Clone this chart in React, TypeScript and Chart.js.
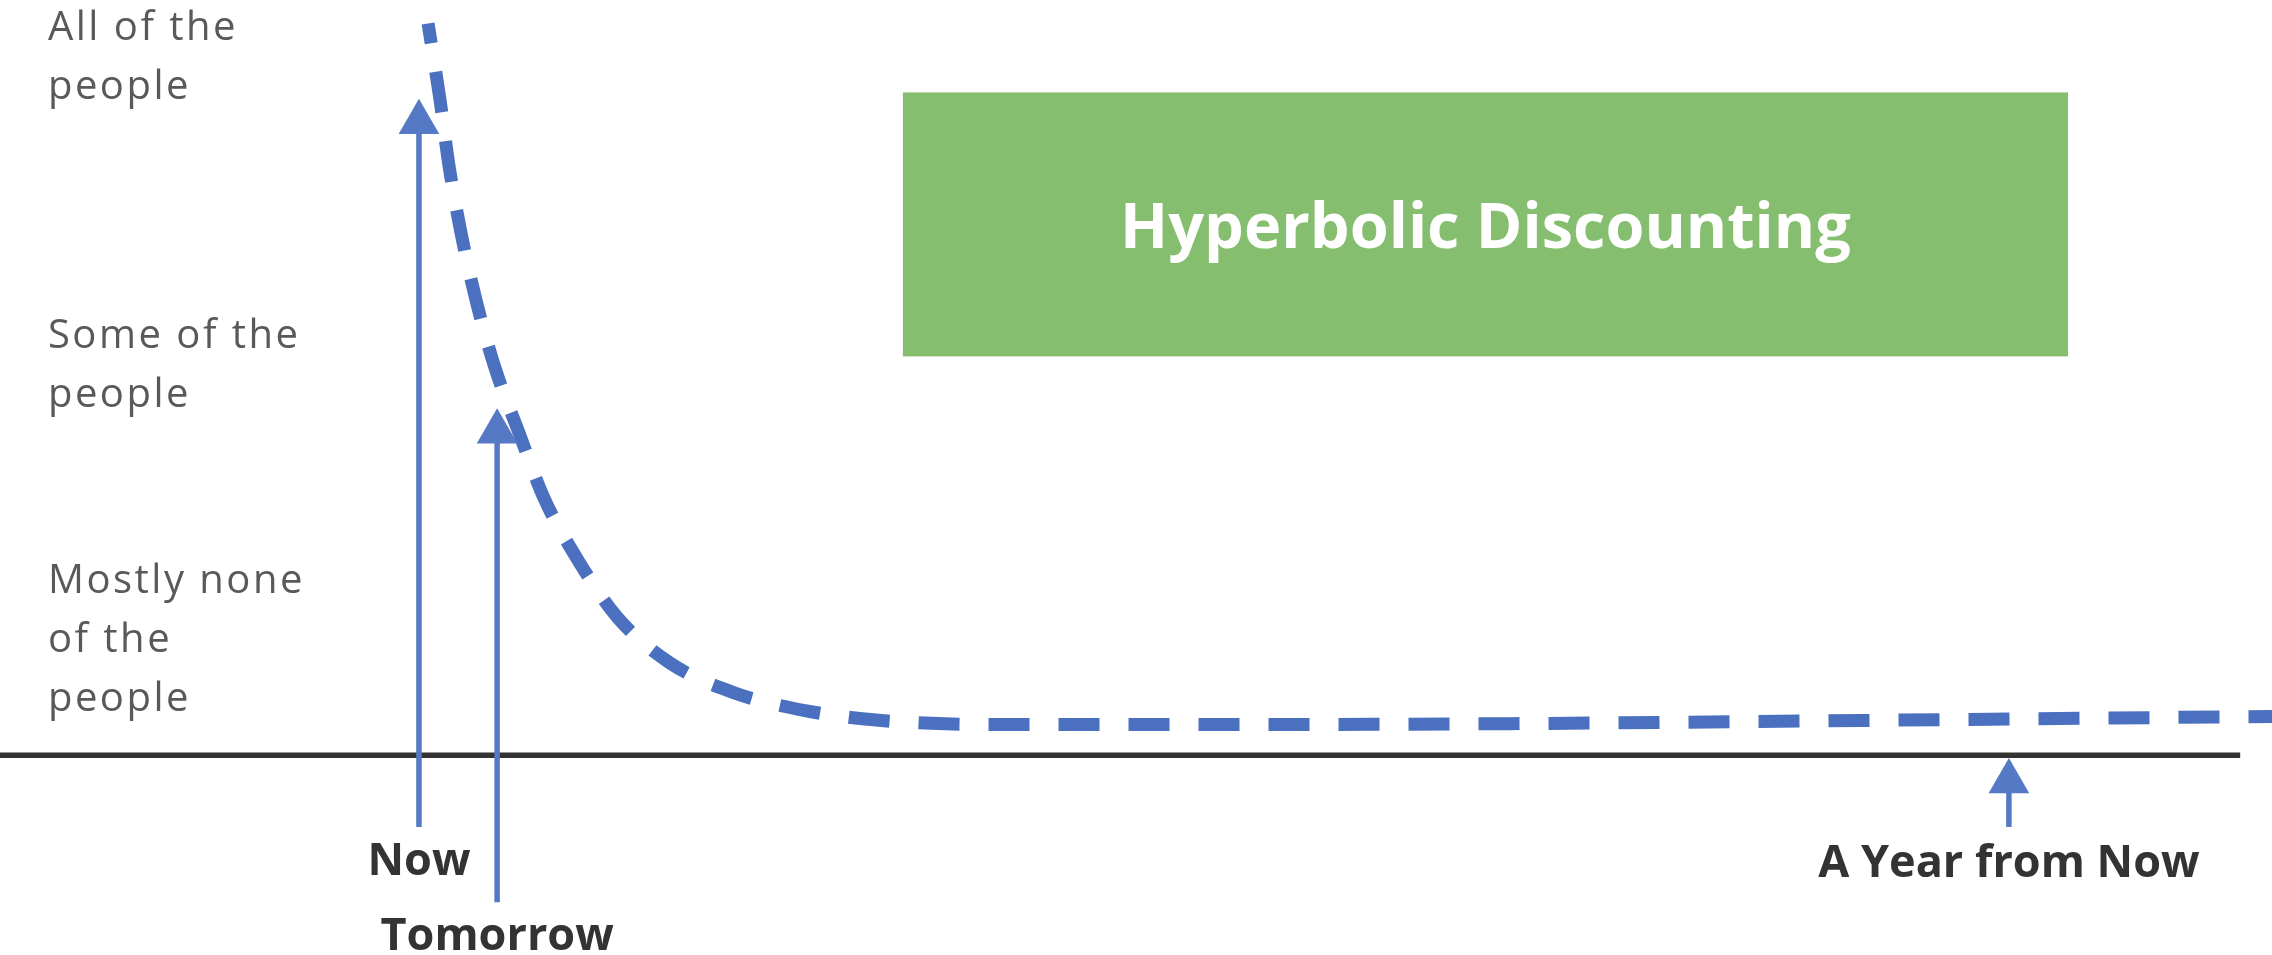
import { useEffect, useRef } from "react";
import { Chart, registerables } from "chart.js";

Chart.register(...registerables);

// Conceptual time axis (0..100 across the figure) and share of people (0..100)
const curveX = [18.84, 19.37, 19.76, 20.29, 20.95, 21.79, 22.85, 23.95, 25.45, 27.16, 29.49, 32.35, 35.43, 38.56, 44.0, 57.2, 70.4, 83.6, 100];
const curveY = [100.0, 89.5, 80.6, 71.4, 62.2, 52.9, 44.0, 35.1, 26.6, 18.9, 12.6, 8.5, 6.1, 4.8, 4.2, 4.2, 4.4, 4.8, 5.3];

const axisX = [0, 98.6];

const arrowLabels = ["Now", "Tomorrow", "A Year from Now"];
const arrowX = [18.44, 21.88, 88.42];
const arrowTop = [86.5, 44.2, -3.6];
const arrowBottom = [-9.8, -20.1, -9.8];

const levelLabels = [
  ["All of the", "people"],
  ["Some of the", "people"],
  ["Mostly none", "of the", "people"],
];

const TITLE = "Hyperbolic Discounting";

// layout config (positions in data units)
const layoutCfg = {
  arrowLabelY: [-16.4, -26.6, -16.7],
  levelLabelX: 2.11,
  levelLabelY: [97.7, 55.6, 22.1],
  levelLineGap: 59,
  box: { x0: 39.74, x1: 91.02, y0: 54.5, y1: 90.57 },
};

const annotatePlugin = {
  id: "annotate",
  beforeDatasetsDraw(chart: any) {
    const { ctx, scales } = chart;
    const x = scales.x;
    const y = scales.y;
    const b = layoutCfg.box;
    const l = x.getPixelForValue(b.x0);
    const r = x.getPixelForValue(b.x1);
    const t = y.getPixelForValue(b.y1);
    const bt = y.getPixelForValue(b.y0);
    ctx.save();
    ctx.fillStyle = "#86BE6F";
    ctx.fillRect(l, t, r - l, bt - t);
    ctx.fillStyle = "#ffffff";
    ctx.font = "bold 63px 'Open Sans'";
    ctx.textAlign = "center";
    ctx.textBaseline = "alphabetic";
    ctx.fillText(TITLE, (l + r) / 2, (t + bt) / 2 + 24);
    ctx.restore();
  },
  afterDatasetsDraw(chart: any) {
    const { ctx, scales } = chart;
    const x = scales.x;
    const y = scales.y;
    ctx.save();
    ctx.textBaseline = "alphabetic";
    // level labels
    ctx.fillStyle = "#58595B";
    ctx.font = "40px 'Open Sans'";
    (ctx as any).letterSpacing = "2.5px";
    ctx.textAlign = "left";
    levelLabels.forEach((lines, i) => {
      const px = x.getPixelForValue(layoutCfg.levelLabelX);
      const py = y.getPixelForValue(layoutCfg.levelLabelY[i]);
      lines.forEach((line, j) => {
        ctx.fillText(line, px, py + j * layoutCfg.levelLineGap);
      });
    });
    // arrow labels
    ctx.fillStyle = "#333333";
    ctx.font = "bold 45px 'Open Sans'";
    (ctx as any).letterSpacing = "0px";
    ctx.textAlign = "center";
    arrowLabels.forEach((lab, i) => {
      ctx.fillText(lab, x.getPixelForValue(arrowX[i]), y.getPixelForValue(layoutCfg.arrowLabelY[i]));
    });
    ctx.restore();
  },
};

export default function App() {
  const ref = useRef<HTMLCanvasElement | null>(null);
  useEffect(() => {
    if (!ref.current) return;
    const blue = "#5579C4";
    const chart = new Chart(ref.current, {
      type: "line",
      data: {
        datasets: [
          {
            label: "axis",
            data: axisX.map((v) => ({ x: v, y: 0 })),
            borderColor: "#333333",
            borderWidth: 5.5,
            pointRadius: 0,
            order: 10,
          } as any,
          {
            label: "curve",
            data: curveX.map((v, i) => ({ x: v, y: curveY[i] })),
            borderColor: "#4A70BF",
            borderWidth: 13,
            borderDash: [41, 29],
            borderDashOffset: 21,
            borderCapStyle: "butt",
            pointRadius: 0,
            cubicInterpolationMode: "monotone",
            order: 5,
          } as any,
          ...arrowX.map((ax, i) => ({
            label: arrowLabels[i],
            data: [
              { x: ax, y: arrowBottom[i] },
              { x: ax, y: arrowTop[i] },
            ],
            borderColor: blue,
            borderWidth: 5.5,
            pointRadius: [0, 23.5],
            pointStyle: "triangle",
            pointBackgroundColor: blue,
            pointBorderWidth: 0,
            order: 1,
          })) as any,
        ],
      },
      options: {
        animation: false,
        responsive: false,
        devicePixelRatio: 1,
        events: [],
        layout: { padding: 0, autoPadding: false },
        plugins: { legend: { display: false }, tooltip: { enabled: false } },
        scales: {
          x: { type: "linear", min: 0, max: 100, display: false },
          y: { type: "linear", min: -27.3, max: 103.2, display: false },
        },
      },
      plugins: [annotatePlugin],
    });
    return () => chart.destroy();
  }, []);
  return (
    <div style={{ position: "absolute", left: 0, top: 0, width: 2272, height: 955, background: "#fff" }}>
      <canvas ref={ref} width={2272} height={955} style={{ width: 2272, height: 955, display: "block" }} />
    </div>
  );
}
